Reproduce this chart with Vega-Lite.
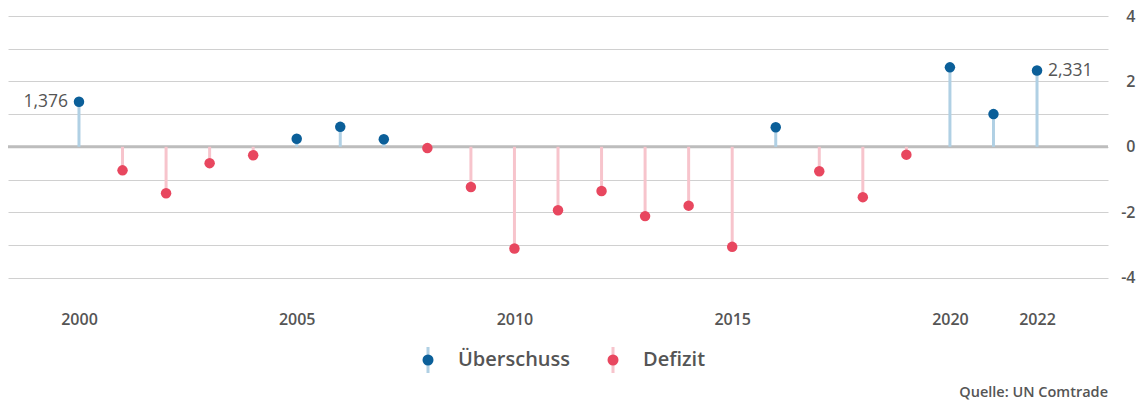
{
  "$schema": "https://vega.github.io/schema/vega-lite/v6.json",
  "width": 1100,
  "height": 261.6,
  "autosize": {"type": "none"},
  "padding": {"left": 8, "top": 16, "right": 32, "bottom": 123.4},
  "background": "white",
  "config": {"font": "Open Sans", "view": {"stroke": null}},
  "title": {
    "text": "Quelle: UN Comtrade",
    "orient": "bottom",
    "anchor": "end",
    "frame": "group",
    "fontSize": 14.5,
    "fontWeight": 600,
    "color": "#555555",
    "offset": 7
  },
  "data": {
    "values": [
      {"year": 2000, "value": 1.376, "type": "Überschuss", "label": "1,376"},
      {"year": 2001, "value": -0.72, "type": "Defizit", "label": ""},
      {"year": 2002, "value": -1.42, "type": "Defizit", "label": ""},
      {"year": 2003, "value": -0.50, "type": "Defizit", "label": ""},
      {"year": 2004, "value": -0.26, "type": "Defizit", "label": ""},
      {"year": 2005, "value": 0.245, "type": "Überschuss", "label": ""},
      {"year": 2006, "value": 0.61, "type": "Überschuss", "label": ""},
      {"year": 2007, "value": 0.23, "type": "Überschuss", "label": ""},
      {"year": 2008, "value": -0.04, "type": "Defizit", "label": ""},
      {"year": 2009, "value": -1.23, "type": "Defizit", "label": ""},
      {"year": 2010, "value": -3.11, "type": "Defizit", "label": ""},
      {"year": 2011, "value": -1.94, "type": "Defizit", "label": ""},
      {"year": 2012, "value": -1.35, "type": "Defizit", "label": ""},
      {"year": 2013, "value": -2.12, "type": "Defizit", "label": ""},
      {"year": 2014, "value": -1.80, "type": "Defizit", "label": ""},
      {"year": 2015, "value": -3.06, "type": "Defizit", "label": ""},
      {"year": 2016, "value": 0.60, "type": "Überschuss", "label": ""},
      {"year": 2017, "value": -0.75, "type": "Defizit", "label": ""},
      {"year": 2018, "value": -1.54, "type": "Defizit", "label": ""},
      {"year": 2019, "value": -0.24, "type": "Defizit", "label": ""},
      {"year": 2020, "value": 2.43, "type": "Überschuss", "label": ""},
      {"year": 2021, "value": 1.00, "type": "Überschuss", "label": ""},
      {"year": 2022, "value": 2.331, "type": "Überschuss", "label": "2,331"}
    ]
  },
  "encoding": {
    "x": {
      "field": "year",
      "type": "quantitative",
      "scale": {"domain": [1998.37, 2023.63], "nice": false, "zero": false},
      "axis": {
        "title": null,
        "values": [2000, 2005, 2010, 2015, 2020, 2022],
        "format": "d",
        "grid": false,
        "domain": false,
        "ticks": false,
        "labelPadding": 34,
        "labelFontSize": 16,
        "labelFontWeight": 600,
        "labelColor": "#555555"
      }
    },
    "y": {
      "field": "value",
      "type": "quantitative",
      "scale": {"domain": [-4, 4], "nice": false},
      "axis": {
        "title": null,
        "orient": "right",
        "values": [-4, -3, -2, -1, 0, 1, 2, 3, 4],
        "labelExpr": "datum.value % 2 === 0 ? '' + datum.value : ''",
        "grid": true,
        "gridColor": "#d0d0d0",
        "gridWidth": 1,
        "domain": false,
        "ticks": false,
        "labelAlign": "right",
        "labelPadding": 27,
        "labelFontSize": 16,
        "labelFontWeight": 600,
        "labelColor": "#555555"
      }
    }
  },
  "layer": [
    {
      "data": {"values": [{"zero": 0}]},
      "mark": {"type": "rule", "color": "#bdbdbd", "strokeWidth": 3},
      "encoding": {"y": {"field": "zero", "type": "quantitative"}, "x": null}
    },
    {
      "mark": {"type": "rule", "strokeWidth": 3},
      "encoding": {
        "y2": {"datum": 0},
        "stroke": {
          "field": "type",
          "type": "nominal",
          "sort": "descending",
          "scale": {"range": ["#b0d0e4", "#f7c4cc"]},
          "legend": {
            "title": null,
            "orient": "none",
            "legendX": 410,
            "legendY": 334,
            "direction": "horizontal",
            "symbolType": "M0,-2.36L0,-0.6M0,0.6L0,2.36",
            "symbolSize": 121,
            "symbolStrokeWidth": 3,
            "labelFontSize": 20,
            "labelFontWeight": 600,
            "labelColor": "#555555",
            "labelOpacity": 0,
            "labelOffset": 20,
            "columnPadding": 32,
            "gridAlign": "all"
          }
        }
      }
    },
    {
      "mark": {"type": "point", "filled": true, "opacity": 1, "shape": "circle", "size": 110},
      "encoding": {
        "fill": {
          "field": "type",
          "type": "nominal",
          "scale": {"domain": ["Überschuss", "Defizit"], "range": ["#0b5f99", "#e8475f"]},
          "legend": {
            "title": null,
            "orient": "none",
            "legendX": 410,
            "legendY": 334,
            "direction": "horizontal",
            "symbolType": "circle",
            "symbolSize": 121,
            "symbolStrokeWidth": 0,
            "labelFontSize": 20,
            "labelFontWeight": 600,
            "labelColor": "#555555",
            "labelOffset": 20,
            "columnPadding": 32,
            "gridAlign": "all"
          }
        }
      }
    },
    {
      "transform": [{"filter": "datum.label !== '' && datum.year < 2010"}],
      "mark": {"type": "text", "align": "right", "baseline": "middle", "dx": -11, "fontSize": 17.5, "fontWeight": 500, "color": "#555555"},
      "encoding": {"text": {"field": "label"}}
    },
    {
      "transform": [{"filter": "datum.label !== '' && datum.year > 2010"}],
      "mark": {"type": "text", "align": "left", "baseline": "middle", "dx": 11, "fontSize": 17.5, "fontWeight": 500, "color": "#555555"},
      "encoding": {"text": {"field": "label"}}
    }
  ]
}
